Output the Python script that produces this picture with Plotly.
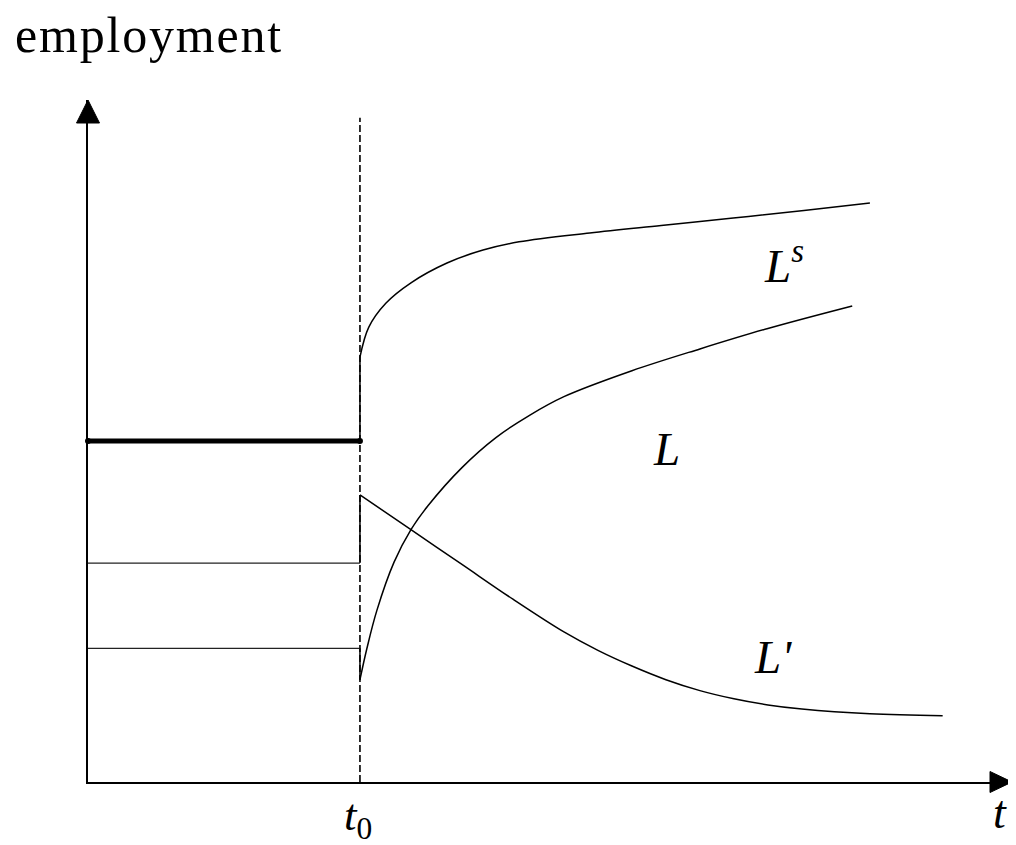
import plotly.graph_objects as go

# ---- data (t in arbitrary time units, employment in arbitrary units) ----
t0 = 4.0
t_pre = [0.0, 4.0]
Ls_pre = 5.0
Lp_pre = 3.21
L_pre = 1.96

t_Ls = [4.0, 4.13, 4.38, 4.75, 5.28, 5.81, 6.34, 7.38, 8.43, 9.49, 10.53, 11.5]
Ls = [6.23, 6.67, 7.02, 7.32, 7.61, 7.80, 7.92, 8.05, 8.16, 8.27, 8.38, 8.49]

t_L = [4.0, 4.1, 4.25, 4.5, 4.75, 5.0, 5.5, 6.0, 6.5, 7.0, 8.0, 9.0, 10.0, 11.24]
L = [1.50, 1.95, 2.52, 3.22, 3.70, 4.05, 4.61, 5.05, 5.38, 5.65, 6.03, 6.35, 6.65, 6.98]

t_Lp = [4.0, 4.75, 5.5, 6.25, 7.0, 7.5, 8.0, 8.5, 9.0, 9.5, 10.0, 10.5, 11.5, 12.57]
Lp = [4.21, 3.70, 3.19, 2.68, 2.20, 1.93, 1.70, 1.50, 1.34, 1.22, 1.13, 1.07, 1.00, 0.97]

dash_top = 9.74
x_max = 13.59
y_max = 10.0

fig = go.Figure()
line_k = dict(color="black", width=1.5)

# t0 dashed marker line
fig.add_trace(go.Scatter(x=[t0, t0], y=[0, dash_top], mode="lines",
                         line=dict(color="black", width=1.6, dash="7px,3px")))

# pre-t0 levels
fig.add_trace(go.Scatter(x=t_pre, y=[Ls_pre, Ls_pre], mode="lines+markers",
                         line=dict(color="black", width=5),
                         marker=dict(size=6, color="black")))
fig.add_trace(go.Scatter(x=t_pre, y=[Lp_pre, Lp_pre], mode="lines",
                         line=dict(color="#222", width=1.2)))
fig.add_trace(go.Scatter(x=t_pre, y=[L_pre, L_pre], mode="lines",
                         line=dict(color="#222", width=1.2)))

# jumps at t0
fig.add_trace(go.Scatter(x=[t0, t0], y=[Ls_pre, Ls[0]], mode="lines", line=line_k))
fig.add_trace(go.Scatter(x=[t0, t0], y=[Lp_pre, Lp[0]], mode="lines", line=line_k))
fig.add_trace(go.Scatter(x=[t0, t0], y=[L_pre, L[0]], mode="lines", line=line_k))

# post-t0 paths
for tx, vy in [(t_Ls, Ls), (t_L, L), (t_Lp, Lp)]:
    fig.add_trace(go.Scatter(x=tx, y=vy, mode="lines",
                             line=dict(color="black", width=1.5, shape="spline")))

fig.update_traces(cliponaxis=False, hoverinfo="skip")

serif = "Liberation Serif, Times New Roman, serif"


def px_(v):
    return v / x_max


def py_(v):
    return v / y_max


annotations = [
    dict(x=px_(-1.10), y=py_(10.95), xanchor="left", yanchor="middle",
         text='<span style="letter-spacing:1.8px">employment</span>',
         font=dict(size=50, family=serif, color="black")),
    dict(x=px_(9.92), y=py_(7.62), xanchor="left", yanchor="middle",
         text="<i>L</i><sup><i>s</i></sup>",
         font=dict(size=47, family=serif, color="black")),
    dict(x=px_(8.51), y=py_(4.88), xanchor="center", yanchor="middle",
         text="<i>L</i>", font=dict(size=47, family=serif, color="black")),
    dict(x=px_(9.76), y=py_(1.83), xanchor="left", yanchor="middle",
         text="<i>L'</i>", font=dict(size=47, family=serif, color="black")),
    dict(x=px_(3.74), y=py_(-0.53), xanchor="left", yanchor="middle",
         text="<i>t</i><sub>0</sub>", font=dict(size=45, family=serif, color="black")),
    dict(x=px_(13.41), y=py_(-0.45), xanchor="center", yanchor="middle",
         text="<i>t</i>", font=dict(size=46, family=serif, color="black")),
]
for a in annotations:
    a.update(xref="paper", yref="paper", showarrow=False)

shapes = [
    dict(type="path", xref="paper", yref="paper", xsizemode="pixel", ysizemode="pixel",
         xanchor=0, yanchor=1, path="M0,0 L-11.5,-23 L11.5,-23 Z",
         fillcolor="black", line=dict(color="black", width=1)),
    dict(type="path", xref="paper", yref="paper", xsizemode="pixel", ysizemode="pixel",
         xanchor=1, yanchor=0, path="M0,0 L-22,10.5 L-22,-10.5 Z",
         fillcolor="black", line=dict(color="black", width=1)),
]

# page body has an 8px margin: shift figure margins to compensate
fig.update_layout(
    width=1008, height=837,
    margin=dict(l=80, r=4, t=92, b=63),
    paper_bgcolor="white", plot_bgcolor="white",
    showlegend=False,
    annotations=annotations,
    shapes=shapes,
    xaxis=dict(range=[0, x_max], showgrid=False, zeroline=False, showticklabels=False,
               ticks="", showline=True, linecolor="black", linewidth=1.5, fixedrange=True),
    yaxis=dict(range=[0, y_max], showgrid=False, zeroline=False, showticklabels=False,
               ticks="", showline=True, linecolor="black", linewidth=1.5, fixedrange=True),
)

fig.write_html("out.html", config={"displayModeBar": False})
